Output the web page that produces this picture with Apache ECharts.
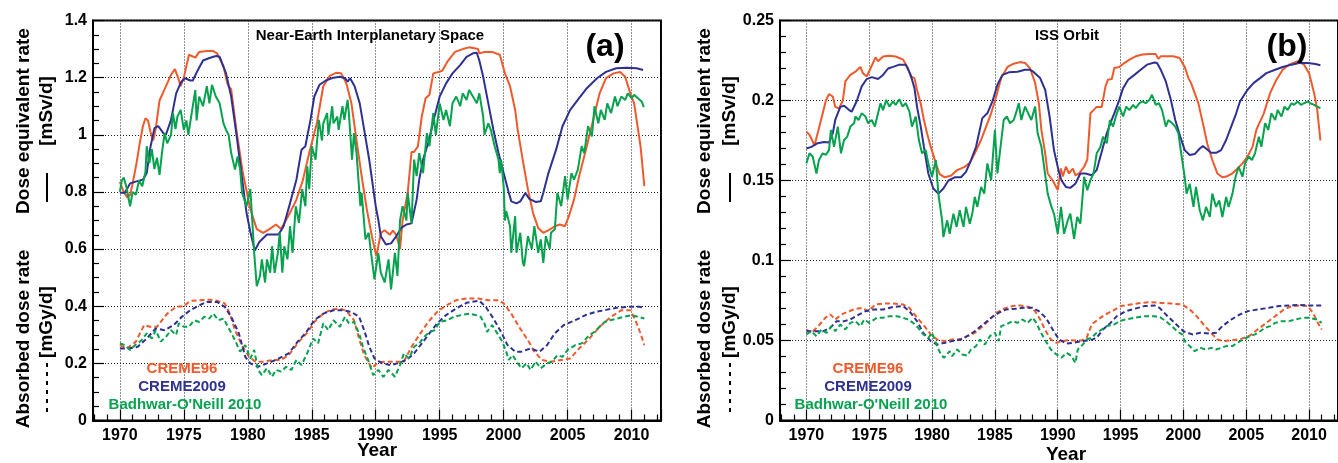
<!DOCTYPE html>
<html>
<head>
<meta charset="utf-8">
<title>Dose rates 1970-2011</title>
<script src="https://cdn.jsdelivr.net/npm/echarts@6/dist/echarts.min.js"></script>
<style>
  html, body { margin: 0; padding: 0; background: #fff; }
  #chart { width: 1338px; height: 463px; }
</style>
</head>
<body>
<div id="chart"></div>
<script>
// ---- Panel (a): near-Earth interplanetary space ----
// Dose equivalent rate [mSv/d], pairs of [year, value]
const doseA_creme96 = [[1970.0,0.835],[1970.3,0.80],[1970.6,0.78],[1970.8,0.79],[1971.0,0.83],[1971.3,0.90],[1971.55,0.97],[1971.8,1.03],[1972.0,1.058],[1972.2,1.05],[1972.4,1.01],[1972.6,0.98],[1972.8,1.02],[1973.1,1.12],[1973.5,1.16],[1974.0,1.21],[1974.3,1.23],[1974.55,1.20],[1974.75,1.17],[1975.0,1.20],[1975.4,1.28],[1975.9,1.27],[1976.2,1.29],[1976.8,1.293],[1977.3,1.293],[1977.6,1.285],[1978.1,1.24],[1978.4,1.18],[1978.5,1.17],[1978.7,1.16],[1979.1,1.02],[1979.6,0.87],[1980.2,0.74],[1980.7,0.67],[1981.2,0.657],[1981.7,0.67],[1982.2,0.686],[1982.6,0.67],[1983.3,0.727],[1983.8,0.773],[1984.3,0.84],[1984.8,0.936],[1985.4,1.04],[1985.9,1.17],[1986.4,1.206],[1986.9,1.217],[1987.3,1.215],[1987.7,1.18],[1988.1,1.11],[1988.5,0.98],[1988.9,0.855],[1989.3,0.74],[1989.7,0.645],[1990.05,0.575],[1990.4,0.656],[1990.7,0.666],[1991.1,0.65],[1991.35,0.665],[1991.6,0.65],[1991.9,0.60],[1992.1,0.70],[1992.5,0.797],[1992.8,0.94],[1993.0,0.94],[1993.3,0.96],[1993.6,1.064],[1993.9,1.128],[1994.2,1.14],[1994.5,1.215],[1994.9,1.22],[1995.2,1.224],[1995.6,1.256],[1996.2,1.29],[1996.8,1.30],[1997.3,1.306],[1998.0,1.30],[1998.1,1.285],[1998.5,1.29],[1999.1,1.29],[1999.7,1.28],[2000.1,1.215],[2000.5,1.17],[2000.9,1.087],[2001.1,1.017],[2001.5,0.91],[2001.9,0.808],[2002.3,0.726],[2002.7,0.674],[2003.1,0.657],[2003.6,0.668],[2004.0,0.68],[2004.4,0.686],[2004.8,0.68],[2005.1,0.715],[2005.5,0.773],[2005.9,0.855],[2006.5,0.96],[2007.0,1.052],[2007.5,1.145],[2008.0,1.198],[2008.6,1.215],[2009.1,1.22],[2009.5,1.203],[2009.9,1.145],[2010.2,1.11],[2010.4,1.05],[2010.7,0.96],[2011.0,0.82]];
const doseA_creme2009 = [[1970.0,0.797],[1970.4,0.797],[1970.8,0.83],[1971.3,0.837],[1971.8,0.843],[1972.1,0.866],[1972.35,0.948],[1972.7,1.023],[1973.0,1.03],[1973.4,1.006],[1973.6,1.0],[1974.0,1.052],[1974.4,1.145],[1974.8,1.186],[1975.1,1.198],[1975.5,1.19],[1975.7,1.19],[1976.1,1.227],[1976.5,1.26],[1976.9,1.267],[1977.3,1.273],[1977.55,1.276],[1977.8,1.273],[1978.1,1.238],[1978.3,1.215],[1978.7,1.134],[1979.1,1.006],[1979.5,0.866],[1979.9,0.727],[1980.2,0.66],[1980.55,0.595],[1980.9,0.625],[1981.5,0.651],[1982.0,0.651],[1982.4,0.651],[1982.8,0.68],[1983.3,0.76],[1983.8,0.843],[1984.2,0.948],[1984.5,0.96],[1984.9,1.052],[1985.2,1.134],[1985.6,1.175],[1986.1,1.19],[1986.7,1.20],[1987.2,1.203],[1987.6,1.198],[1987.8,1.186],[1988.0,1.198],[1988.35,1.17],[1988.75,1.11],[1989.1,1.017],[1989.5,0.91],[1990.0,0.75],[1990.2,0.703],[1990.4,0.645],[1990.8,0.616],[1991.2,0.62],[1991.6,0.645],[1992.0,0.674],[1992.4,0.686],[1992.8,0.69],[1993.2,0.773],[1993.4,0.843],[1993.7,0.913],[1994.1,0.971],[1994.6,1.064],[1995.0,1.134],[1995.5,1.18],[1996.0,1.215],[1996.6,1.244],[1997.1,1.273],[1997.6,1.285],[1997.9,1.287],[1998.1,1.26],[1998.4,1.203],[1998.8,1.11],[1999.2,1.017],[1999.6,0.936],[2000.0,0.866],[2000.4,0.797],[2000.6,0.767],[2001.0,0.76],[2001.3,0.767],[2001.7,0.796],[2002.0,0.776],[2002.5,0.765],[2002.9,0.767],[2003.1,0.797],[2003.5,0.866],[2004.1,0.948],[2004.6,1.03],[2005.2,1.087],[2005.9,1.128],[2006.5,1.163],[2007.3,1.198],[2008.0,1.22],[2008.8,1.233],[2009.6,1.235],[2010.4,1.233],[2010.9,1.227]];
const doseA_bon2010 = [[1970.0,0.80],[1970.15,0.84],[1970.3,0.85],[1970.5,0.82],[1970.8,0.75],[1971.0,0.80],[1971.25,0.79],[1971.5,0.84],[1971.75,0.82],[1972.0,0.87],[1972.1,0.96],[1972.3,0.90],[1972.5,0.95],[1972.7,0.88],[1972.9,0.92],[1973.1,0.86],[1973.3,0.94],[1973.5,1.006],[1973.7,0.97],[1974.0,1.0],[1974.15,1.076],[1974.35,1.02],[1974.5,1.064],[1974.75,1.087],[1975.0,1.017],[1975.2,1.05],[1975.35,1.0],[1975.5,1.0],[1975.7,1.10],[1975.9,1.157],[1976.0,1.05],[1976.2,1.134],[1976.5,1.10],[1976.8,1.17],[1977.0,1.11],[1977.2,1.175],[1977.5,1.134],[1977.8,1.11],[1978.1,1.04],[1978.3,1.017],[1978.5,1.0],[1978.7,0.936],[1979.0,0.878],[1979.2,0.924],[1979.4,0.878],[1979.55,0.797],[1979.9,0.75],[1980.2,0.81],[1980.35,0.70],[1980.5,0.587],[1980.7,0.47],[1980.95,0.506],[1981.1,0.564],[1981.35,0.483],[1981.5,0.564],[1981.75,0.517],[1981.9,0.61],[1982.1,0.517],[1982.35,0.587],[1982.5,0.657],[1982.7,0.517],[1982.85,0.61],[1983.1,0.564],[1983.3,0.68],[1983.5,0.587],[1983.75,0.75],[1984.0,0.692],[1984.25,0.81],[1984.5,0.75],[1984.65,0.89],[1984.8,0.81],[1985.0,0.96],[1985.3,0.913],[1985.55,1.052],[1985.8,0.98],[1985.9,1.04],[1986.2,1.076],[1986.3,1.0],[1986.6,1.1],[1986.7,1.04],[1987.0,1.064],[1987.1,1.017],[1987.4,1.1],[1987.55,1.052],[1987.8,1.122],[1987.9,1.076],[1988.15,0.913],[1988.3,1.006],[1988.5,0.936],[1988.8,0.75],[1988.9,0.797],[1989.2,0.634],[1989.45,0.657],[1989.6,0.6],[1989.9,0.494],[1990.2,0.587],[1990.4,0.517],[1990.7,0.483],[1991.0,0.564],[1991.2,0.459],[1991.5,0.587],[1991.7,0.506],[1991.9,0.70],[1992.1,0.75],[1992.4,0.70],[1992.5,0.797],[1992.8,0.69],[1993.0,0.913],[1993.2,0.855],[1993.4,0.936],[1993.7,0.866],[1994.0,1.006],[1994.2,0.96],[1994.5,1.076],[1994.7,1.0],[1995.0,1.11],[1995.3,1.052],[1995.5,1.087],[1995.8,1.03],[1996.0,1.11],[1996.3,1.134],[1996.6,1.10],[1996.8,1.145],[1997.1,1.122],[1997.3,1.157],[1997.6,1.134],[1997.9,1.11],[1998.1,1.145],[1998.4,1.064],[1998.5,1.0],[1998.8,1.04],[1999.0,1.017],[1999.3,0.96],[1999.6,0.913],[1999.7,0.866],[1999.8,0.913],[2000.0,0.82],[2000.1,0.70],[2000.2,0.733],[2000.5,0.68],[2000.6,0.587],[2000.9,0.715],[2001.0,0.587],[2001.3,0.657],[2001.5,0.552],[2001.6,0.54],[2001.9,0.645],[2002.2,0.60],[2002.4,0.68],[2002.7,0.587],[2002.9,0.634],[2003.1,0.552],[2003.3,0.645],[2003.6,0.60],[2003.7,0.657],[2004.0,0.669],[2004.2,0.797],[2004.5,0.75],[2004.8,0.855],[2005.0,0.773],[2005.3,0.866],[2005.5,0.843],[2005.8,0.878],[2006.1,0.96],[2006.3,0.936],[2006.6,1.03],[2006.9,0.994],[2007.1,1.10],[2007.4,1.04],[2007.6,1.087],[2007.9,1.052],[2008.1,1.11],[2008.4,1.076],[2008.7,1.134],[2008.9,1.10],[2009.2,1.134],[2009.5,1.122],[2009.7,1.145],[2010.0,1.128],[2010.2,1.14],[2010.5,1.128],[2010.8,1.116],[2010.95,1.097]];
// Absorbed dose rate [mGy/d]
const absA_creme96 = [[1970.0,0.264],[1970.55,0.252],[1971.25,0.276],[1971.9,0.334],[1972.35,0.328],[1972.9,0.328],[1973.7,0.374],[1974.4,0.398],[1975.0,0.40],[1975.5,0.419],[1976.2,0.421],[1977.1,0.423],[1977.6,0.419],[1978.2,0.41],[1978.6,0.374],[1979.0,0.316],[1979.6,0.258],[1980.1,0.223],[1980.6,0.206],[1981.2,0.206],[1982.0,0.212],[1982.6,0.212],[1983.2,0.229],[1984.0,0.276],[1984.7,0.31],[1985.2,0.345],[1985.9,0.374],[1986.5,0.388],[1987.2,0.392],[1987.7,0.384],[1988.3,0.351],[1988.7,0.287],[1989.1,0.229],[1989.7,0.183],[1990.1,0.20],[1990.6,0.206],[1991.2,0.206],[1991.6,0.206],[1992.2,0.206],[1992.8,0.258],[1993.4,0.299],[1994.1,0.345],[1994.8,0.38],[1995.5,0.403],[1996.3,0.421],[1997.1,0.427],[1998.0,0.427],[1998.8,0.421],[1999.6,0.421],[2000.0,0.41],[2000.6,0.374],[2001.2,0.328],[2001.9,0.281],[2002.4,0.241],[2003.0,0.212],[2003.7,0.206],[2004.5,0.212],[2005.2,0.217],[2005.9,0.252],[2006.7,0.287],[2007.5,0.328],[2008.4,0.363],[2009.2,0.386],[2009.9,0.386],[2010.3,0.351],[2010.7,0.305],[2011.0,0.264]];
const absA_creme2009 = [[1970.0,0.252],[1970.7,0.252],[1971.4,0.258],[1972.1,0.287],[1972.8,0.322],[1973.5,0.316],[1974.2,0.334],[1974.85,0.363],[1975.5,0.386],[1976.2,0.403],[1976.8,0.415],[1977.6,0.415],[1978.2,0.398],[1978.7,0.363],[1979.3,0.305],[1979.8,0.223],[1980.2,0.20],[1980.8,0.188],[1981.5,0.20],[1982.3,0.214],[1983.2,0.235],[1983.9,0.276],[1984.5,0.305],[1985.2,0.351],[1985.9,0.374],[1986.7,0.386],[1987.4,0.386],[1988.1,0.38],[1988.7,0.363],[1989.1,0.316],[1989.5,0.258],[1989.9,0.217],[1990.5,0.20],[1991.2,0.194],[1991.7,0.20],[1992.4,0.212],[1993.0,0.235],[1993.5,0.264],[1994.1,0.299],[1994.8,0.34],[1995.5,0.369],[1996.3,0.392],[1997.1,0.412],[1998.1,0.419],[1998.6,0.398],[1999.2,0.357],[1999.8,0.31],[2000.3,0.264],[2000.9,0.241],[2001.4,0.241],[2002.1,0.252],[2002.8,0.241],[2003.4,0.264],[2004.0,0.305],[2004.7,0.334],[2005.6,0.351],[2006.4,0.369],[2007.2,0.38],[2008.1,0.388],[2008.9,0.395],[2009.8,0.398],[2010.6,0.398],[2011.0,0.395]];
const absA_bon2010 = [[1970.0,0.27],[1970.4,0.264],[1970.8,0.247],[1971.2,0.264],[1971.7,0.281],[1972.1,0.305],[1972.5,0.287],[1972.8,0.316],[1973.2,0.276],[1973.6,0.293],[1974.0,0.316],[1974.4,0.299],[1974.6,0.34],[1975.0,0.328],[1975.4,0.328],[1975.8,0.351],[1976.2,0.345],[1976.6,0.363],[1977.0,0.357],[1977.3,0.374],[1977.7,0.351],[1978.1,0.357],[1978.6,0.316],[1979.0,0.281],[1979.4,0.241],[1979.8,0.264],[1980.2,0.217],[1980.5,0.247],[1980.8,0.177],[1981.1,0.159],[1981.5,0.183],[1981.9,0.153],[1982.2,0.177],[1982.6,0.171],[1983.0,0.188],[1983.4,0.177],[1983.8,0.212],[1984.2,0.194],[1984.7,0.241],[1985.1,0.287],[1985.5,0.27],[1985.9,0.34],[1986.3,0.316],[1986.7,0.351],[1987.2,0.328],[1987.6,0.363],[1987.9,0.34],[1988.3,0.345],[1988.7,0.305],[1989.0,0.258],[1989.4,0.212],[1989.8,0.159],[1990.2,0.177],[1990.6,0.153],[1991.0,0.177],[1991.5,0.153],[1991.9,0.194],[1992.2,0.235],[1992.6,0.217],[1993.0,0.258],[1993.4,0.27],[1993.8,0.293],[1994.2,0.31],[1994.6,0.316],[1995.0,0.345],[1995.6,0.351],[1996.1,0.363],[1996.7,0.369],[1997.3,0.374],[1997.8,0.369],[1998.2,0.363],[1998.5,0.34],[1998.7,0.31],[1999.1,0.334],[1999.5,0.305],[1999.9,0.276],[2000.2,0.241],[2000.4,0.212],[2000.7,0.229],[2001.1,0.20],[2001.4,0.183],[2001.8,0.20],[2002.1,0.177],[2002.5,0.206],[2002.9,0.183],[2003.4,0.20],[2003.8,0.206],[2004.2,0.229],[2004.6,0.223],[2005.0,0.247],[2005.6,0.264],[2006.1,0.27],[2006.7,0.299],[2007.1,0.31],[2007.5,0.328],[2007.9,0.345],[2008.3,0.351],[2008.9,0.357],[2009.4,0.363],[2010.0,0.369],[2010.5,0.363],[2011.0,0.357]];

// ---- Panel (b): ISS orbit ----
const doseB_creme96 = [[1970.0,0.1805],[1970.25,0.1785],[1970.65,0.172],[1971.0,0.1826],[1971.3,0.192],[1971.55,0.2],[1971.8,0.204],[1972.1,0.2025],[1972.3,0.196],[1972.6,0.195],[1972.9,0.2],[1973.1,0.212],[1973.5,0.216],[1973.9,0.218],[1974.3,0.221],[1974.5,0.217],[1974.8,0.215],[1975.1,0.22],[1975.5,0.227],[1975.7,0.2245],[1976.1,0.2275],[1976.6,0.228],[1977.1,0.2275],[1977.7,0.2255],[1978.1,0.22],[1978.3,0.215],[1978.6,0.214],[1978.8,0.2067],[1979.1,0.198],[1979.35,0.188],[1979.6,0.1795],[1979.9,0.171],[1980.3,0.1607],[1980.6,0.154],[1981.0,0.152],[1981.5,0.153],[1982.0,0.1565],[1982.6,0.1585],[1983.0,0.161],[1983.4,0.167],[1983.9,0.1753],[1984.3,0.1837],[1984.7,0.192],[1985.1,0.2025],[1985.5,0.214],[1986.0,0.221],[1986.5,0.223],[1987.0,0.224],[1987.4,0.2235],[1987.8,0.22],[1988.2,0.211],[1988.5,0.198],[1988.7,0.1816],[1989.0,0.167],[1989.2,0.1544],[1989.6,0.15],[1990.0,0.144],[1990.25,0.1575],[1990.4,0.1525],[1990.65,0.1586],[1990.9,0.1544],[1991.2,0.1575],[1991.4,0.1533],[1991.7,0.1544],[1992.1,0.1586],[1992.35,0.163],[1992.6,0.192],[1992.85,0.194],[1993.1,0.196],[1993.5,0.196],[1993.8,0.2088],[1994.0,0.213],[1994.3,0.2134],[1994.5,0.2203],[1994.9,0.221],[1995.3,0.2234],[1995.7,0.2255],[1996.2,0.2276],[1996.75,0.2287],[1997.3,0.229],[1997.8,0.229],[1998.0,0.226],[1998.2,0.2276],[1998.7,0.2276],[1999.2,0.2276],[1999.7,0.2266],[2000.1,0.221],[2000.4,0.214],[2000.6,0.211],[2000.9,0.2046],[2001.2,0.198],[2001.6,0.184],[2001.9,0.173],[2002.3,0.1628],[2002.7,0.1544],[2003.1,0.152],[2003.5,0.1527],[2003.9,0.1544],[2004.3,0.1575],[2004.7,0.1607],[2005.1,0.165],[2005.5,0.171],[2005.8,0.1816],[2006.4,0.192],[2006.9,0.2046],[2007.4,0.213],[2007.9,0.2192],[2008.4,0.2224],[2009.1,0.2245],[2009.6,0.2224],[2010.0,0.2171],[2010.4,0.2046],[2010.65,0.194],[2010.9,0.175]];
const doseB_creme2009 = [[1970.0,0.17],[1970.4,0.171],[1970.9,0.1733],[1971.4,0.174],[1971.8,0.1737],[1972.1,0.1795],[1972.3,0.188],[1972.7,0.196],[1973.0,0.1967],[1973.4,0.194],[1973.6,0.193],[1974.0,0.1995],[1974.4,0.2088],[1974.8,0.2134],[1975.2,0.2146],[1975.7,0.2134],[1976.1,0.216],[1976.5,0.22],[1976.9,0.221],[1977.4,0.2224],[1977.9,0.2224],[1978.3,0.216],[1978.6,0.2077],[1978.8,0.1962],[1979.1,0.1837],[1979.35,0.1711],[1979.7,0.1544],[1980.1,0.145],[1980.5,0.1418],[1980.9,0.145],[1981.3,0.15],[1981.8,0.152],[1982.3,0.152],[1982.7,0.1554],[1983.1,0.1628],[1983.5,0.1711],[1984.0,0.189],[1984.4,0.192],[1984.8,0.1994],[1985.2,0.2098],[1985.6,0.216],[1986.1,0.2176],[1986.8,0.218],[1987.4,0.2192],[1987.8,0.2192],[1988.05,0.218],[1988.6,0.214],[1989.0,0.2067],[1989.35,0.19],[1989.7,0.169],[1990.1,0.155],[1990.3,0.15],[1990.65,0.146],[1991.0,0.1454],[1991.4,0.148],[1991.8,0.1544],[1992.2,0.1544],[1992.7,0.1533],[1993.1,0.1565],[1993.5,0.168],[1993.9,0.1795],[1994.3,0.188],[1994.5,0.192],[1994.9,0.2004],[1995.2,0.2077],[1995.6,0.213],[1996.1,0.216],[1996.6,0.2192],[1997.1,0.2224],[1997.7,0.2238],[1997.9,0.2234],[1998.2,0.2192],[1998.6,0.2119],[1999.0,0.2004],[1999.35,0.1878],[1999.75,0.1774],[2000.1,0.169],[2000.5,0.1659],[2000.9,0.1665],[2001.3,0.17],[2001.55,0.1715],[2001.8,0.17],[2002.2,0.1673],[2002.6,0.1673],[2003.0,0.169],[2003.4,0.1753],[2003.8,0.1837],[2004.2,0.192],[2004.5,0.1994],[2005.1,0.2067],[2005.6,0.211],[2006.1,0.214],[2006.6,0.2171],[2007.3,0.2192],[2007.9,0.2209],[2008.6,0.2224],[2009.2,0.2234],[2009.9,0.2234],[2010.5,0.2228],[2010.9,0.222]];
const doseB_bon2010 = [[1970.0,0.1607],[1970.25,0.167],[1970.5,0.165],[1970.8,0.1544],[1971.0,0.1628],[1971.3,0.167],[1971.55,0.166],[1971.8,0.169],[1971.95,0.1816],[1972.2,0.171],[1972.5,0.1837],[1972.75,0.167],[1973.0,0.1753],[1973.25,0.1774],[1973.5,0.1837],[1973.8,0.1858],[1973.9,0.19],[1974.15,0.1878],[1974.4,0.192],[1974.7,0.19],[1974.9,0.1858],[1975.2,0.1878],[1975.45,0.1837],[1975.7,0.192],[1975.9,0.1983],[1976.1,0.194],[1976.35,0.2004],[1976.6,0.1962],[1976.9,0.1994],[1977.1,0.1973],[1977.4,0.2008],[1977.65,0.1962],[1977.9,0.1983],[1978.2,0.193],[1978.4,0.1837],[1978.7,0.19],[1978.95,0.1753],[1979.2,0.167],[1979.5,0.169],[1979.7,0.1607],[1980.0,0.1523],[1980.3,0.1628],[1980.5,0.1418],[1980.8,0.1251],[1980.9,0.1146],[1981.2,0.1251],[1981.4,0.1167],[1981.7,0.1293],[1981.95,0.121],[1982.2,0.1314],[1982.5,0.121],[1982.7,0.1335],[1983.0,0.123],[1983.2,0.1293],[1983.4,0.1397],[1983.6,0.1335],[1983.9,0.146],[1984.15,0.1418],[1984.4,0.1607],[1984.7,0.1502],[1985.0,0.1816],[1985.2,0.1544],[1985.45,0.1711],[1985.7,0.1878],[1985.95,0.19],[1986.2,0.1858],[1986.5,0.1878],[1986.75,0.194],[1986.9,0.1983],[1987.1,0.1878],[1987.4,0.1962],[1987.65,0.192],[1987.9,0.1878],[1988.2,0.1962],[1988.4,0.1795],[1988.7,0.1711],[1988.95,0.1565],[1989.2,0.1418],[1989.5,0.1335],[1989.7,0.1293],[1990.0,0.1167],[1990.26,0.1335],[1990.5,0.1167],[1990.8,0.1251],[1991.0,0.1293],[1991.3,0.1136],[1991.55,0.1272],[1991.8,0.123],[1992.1,0.1523],[1992.35,0.1439],[1992.6,0.1502],[1992.85,0.1544],[1993.1,0.167],[1993.4,0.1711],[1993.6,0.1774],[1993.9,0.1732],[1994.15,0.1878],[1994.4,0.1837],[1994.7,0.192],[1994.9,0.1962],[1995.2,0.19],[1995.45,0.1962],[1995.7,0.194],[1996.0,0.1973],[1996.2,0.1952],[1996.5,0.1983],[1996.75,0.1994],[1997.0,0.1983],[1997.3,0.2004],[1997.5,0.2036],[1997.8,0.1973],[1998.05,0.1983],[1998.3,0.194],[1998.6,0.1837],[1998.8,0.1878],[1999.1,0.1858],[1999.35,0.1837],[1999.6,0.1795],[1999.75,0.1711],[1999.9,0.1628],[2000.1,0.1523],[2000.25,0.1418],[2000.5,0.148],[2000.8,0.1335],[2001.0,0.146],[2001.3,0.1314],[2001.55,0.1251],[2001.8,0.1335],[2002.1,0.1272],[2002.3,0.1418],[2002.6,0.1335],[2002.85,0.1376],[2003.1,0.1272],[2003.4,0.1397],[2003.6,0.1335],[2003.9,0.1418],[2004.15,0.1523],[2004.4,0.1586],[2004.7,0.1523],[2004.9,0.1607],[2005.2,0.165],[2005.45,0.1628],[2005.7,0.167],[2006.0,0.1774],[2006.2,0.1711],[2006.5,0.1858],[2006.75,0.1816],[2007.0,0.192],[2007.3,0.1878],[2007.5,0.194],[2007.8,0.19],[2008.05,0.1962],[2008.3,0.194],[2008.6,0.1983],[2008.8,0.1973],[2009.1,0.1994],[2009.35,0.1973],[2009.6,0.1983],[2009.9,0.1994],[2010.1,0.1983],[2010.4,0.1973],[2010.65,0.1962],[2010.9,0.1952]];
const absB_creme96 = [[1970.0,0.0569],[1970.4,0.0548],[1970.95,0.059],[1971.5,0.0642],[1971.9,0.0663],[1972.3,0.0631],[1972.8,0.0663],[1973.4,0.0683],[1973.9,0.0698],[1974.5,0.0704],[1974.9,0.0683],[1975.5,0.0725],[1976.2,0.0731],[1976.9,0.0731],[1977.7,0.0725],[1978.2,0.0704],[1978.6,0.0663],[1979.05,0.0621],[1979.5,0.0579],[1979.9,0.0538],[1980.4,0.0506],[1980.95,0.0496],[1981.6,0.0506],[1982.3,0.051],[1982.8,0.0527],[1983.4,0.0548],[1984.05,0.059],[1984.6,0.0631],[1985.1,0.0673],[1985.7,0.0698],[1986.4,0.0715],[1987.0,0.0719],[1987.7,0.071],[1988.2,0.0683],[1988.6,0.0631],[1989.05,0.0558],[1989.45,0.0506],[1989.9,0.0485],[1990.3,0.0496],[1990.8,0.0502],[1991.4,0.05],[1991.9,0.05],[1992.3,0.0517],[1992.7,0.06],[1993.2,0.0631],[1993.8,0.0663],[1994.3,0.0683],[1995.0,0.0715],[1995.8,0.0725],[1996.6,0.0735],[1997.4,0.074],[1998.2,0.0735],[1999.05,0.0731],[1999.9,0.0725],[2000.5,0.0694],[2001.05,0.0652],[2001.6,0.06],[2002.2,0.0548],[2002.7,0.0506],[2003.2,0.0496],[2003.9,0.0502],[2004.6,0.051],[2005.3,0.0531],[2005.9,0.0569],[2006.6,0.061],[2007.3,0.0652],[2008.0,0.0694],[2008.6,0.0715],[2009.3,0.0719],[2009.9,0.0715],[2010.3,0.0673],[2010.7,0.061],[2011.0,0.0569]];
const absB_creme2009 = [[1970.0,0.0558],[1970.7,0.0558],[1971.35,0.0558],[1971.9,0.0579],[1972.4,0.0621],[1973.0,0.0621],[1973.5,0.0631],[1974.2,0.0663],[1974.7,0.0683],[1975.3,0.0694],[1976.1,0.0694],[1976.9,0.071],[1977.7,0.0715],[1978.2,0.0683],[1978.8,0.0621],[1979.3,0.0548],[1979.9,0.0496],[1980.4,0.0475],[1980.95,0.0485],[1981.6,0.0496],[1982.3,0.0506],[1982.8,0.0527],[1983.4,0.0558],[1984.05,0.06],[1984.7,0.0642],[1985.3,0.0673],[1985.9,0.0694],[1986.6,0.0698],[1987.3,0.0704],[1988.0,0.0704],[1988.5,0.0683],[1989.05,0.0642],[1989.6,0.0569],[1990.1,0.0506],[1990.7,0.0481],[1991.2,0.0485],[1991.9,0.0496],[1992.6,0.0502],[1993.1,0.0517],[1993.6,0.0569],[1994.2,0.061],[1994.7,0.0652],[1995.4,0.0683],[1996.1,0.0698],[1996.9,0.0715],[1997.7,0.0719],[1998.1,0.0704],[1998.6,0.0663],[1999.3,0.061],[2000.0,0.0558],[2000.7,0.0538],[2001.35,0.0548],[2002.05,0.0544],[2002.6,0.0548],[2003.1,0.059],[2003.8,0.0631],[2004.5,0.0663],[2005.1,0.0683],[2005.95,0.0694],[2006.8,0.0704],[2007.6,0.0715],[2008.4,0.0719],[2009.2,0.0723],[2010.0,0.0719],[2011.0,0.0719]];
const absB_bon2010 = [[1970.0,0.0538],[1970.4,0.0558],[1970.8,0.0527],[1971.2,0.0569],[1971.6,0.0548],[1972.0,0.059],[1972.3,0.0558],[1972.7,0.06],[1973.1,0.0569],[1973.5,0.061],[1973.9,0.0621],[1974.3,0.059],[1974.6,0.0631],[1975.0,0.061],[1975.6,0.0642],[1976.1,0.0642],[1976.6,0.0652],[1977.2,0.0652],[1977.7,0.0642],[1978.1,0.0631],[1978.5,0.061],[1978.9,0.0579],[1979.3,0.0538],[1979.7,0.0517],[1980.0,0.0548],[1980.4,0.0465],[1980.7,0.0413],[1980.95,0.0392],[1981.4,0.0433],[1981.6,0.0402],[1982.0,0.0444],[1982.4,0.0413],[1982.8,0.0406],[1983.1,0.0444],[1983.5,0.0465],[1983.8,0.0506],[1984.2,0.0475],[1984.6,0.0527],[1985.0,0.0548],[1985.3,0.0496],[1985.5,0.059],[1985.9,0.06],[1986.4,0.0621],[1986.8,0.061],[1987.2,0.0631],[1987.6,0.061],[1988.0,0.0642],[1988.3,0.061],[1988.6,0.0558],[1989.05,0.0496],[1989.45,0.0444],[1989.9,0.0413],[1990.3,0.0392],[1990.7,0.0423],[1991.1,0.0402],[1991.4,0.036],[1991.6,0.0444],[1992.0,0.0475],[1992.3,0.0506],[1992.7,0.0517],[1993.1,0.0548],[1993.5,0.0569],[1993.9,0.059],[1994.5,0.06],[1994.9,0.0621],[1995.4,0.0631],[1996.1,0.0642],[1996.9,0.0652],[1997.7,0.0652],[1998.2,0.0642],[1998.6,0.0621],[1999.05,0.059],[1999.5,0.0558],[1999.9,0.0538],[2000.1,0.0496],[2000.5,0.0465],[2000.9,0.0433],[2001.35,0.0454],[2001.8,0.0444],[2002.2,0.0454],[2002.6,0.0444],[2003.0,0.0454],[2003.4,0.0465],[2003.9,0.0465],[2004.3,0.0485],[2004.7,0.0506],[2005.3,0.0527],[2005.7,0.0538],[2006.1,0.0558],[2006.5,0.0579],[2006.9,0.059],[2007.3,0.061],[2007.8,0.0621],[2008.4,0.0621],[2008.9,0.0631],[2009.5,0.0642],[2010.0,0.0642],[2010.6,0.0631],[2011.0,0.061]];

// Model names and the colours they are drawn in
const modelNames = ['CREME96', 'CREME2009', "Badhwar-O'Neill 2010"];
const modelColors = ['#ef5a2c', '#2e3192', '#06a24e'];

const panelTitles = ['Near-Earth Interplanetary Space', 'ISS Orbit'];
const panelTags = ['(a)', '(b)'];
const yTitles = ['Dose equivalent rate', '[mSv/d]', 'Absorbed dose rate', '[mGy/d]'];

const FONT = '"Liberation Sans", Arial, Helvetica, sans-serif';
const chart = echarts.init(document.getElementById('chart'), null, { renderer: 'canvas' });

const gridBoxes = [
  { left: 93, top: 20.5, width: 568, height: 400 },
  { left: 780, top: 20.5, width: 568, height: 400 }
];

function xAxisFor(i) {
  return {
    type: 'value', gridIndex: i, min: 1967.9, max: 2012.3,
    splitNumber: 9, minInterval: 5, maxInterval: 5,
    axisLine: { show: true, lineStyle: { color: '#000', width: 2 } },
    axisTick: { show: true, inside: true, length: 11, lineStyle: { color: '#000', width: 1.2 } },
    minorTick: { show: true, splitNumber: 5, length: 6, lineStyle: { color: '#000', width: 1.2 } },
    splitLine: { show: true, lineStyle: { color: '#222', width: 1, type: [1, 2] } },
    axisLabel: {
      show: true, margin: 7, color: '#000', fontFamily: FONT, fontWeight: 'bold', fontSize: 16,
      showMinLabel: false, showMaxLabel: false,
      formatter: v => (Math.abs(v % 5) < 1e-6 ? String(Math.round(v)) : '')
    }
  };
}

function yAxisFor(i, max, interval, minorSplit) {
  return {
    type: 'value', gridIndex: i, min: 0, max: max, interval: interval,
    axisLine: { show: true, onZero: false, lineStyle: { color: '#000', width: 2 } },
    axisTick: { show: true, inside: true, length: 11, lineStyle: { color: '#000', width: 1.2 } },
    minorTick: { show: true, splitNumber: minorSplit, length: 6, lineStyle: { color: '#000', width: 1.2 } },
    splitLine: { show: true, lineStyle: { color: '#222', width: 1, type: [1, 2] } },
    axisLabel: { show: true, margin: 6, color: '#000', fontFamily: FONT, fontWeight: 'bold', fontSize: 16 }
  };
}

function lineSeries(data, gi, k, dashed) {
  return {
    type: 'line', xAxisIndex: gi, yAxisIndex: gi, data: data,
    showSymbol: false, symbol: 'none', smooth: false, animation: false,
    lineStyle: { color: modelColors[k], width: 2, type: dashed ? [5, 3] : 'solid' },
    z: 3 + k
  };
}

const series = [
  lineSeries(doseA_creme96, 0, 0, false),
  lineSeries(doseA_creme2009, 0, 1, false),
  lineSeries(doseA_bon2010, 0, 2, false),
  lineSeries(absA_creme96, 0, 0, true),
  lineSeries(absA_creme2009, 0, 1, true),
  lineSeries(absA_bon2010, 0, 2, true),
  lineSeries(doseB_creme96, 1, 0, false),
  lineSeries(doseB_creme2009, 1, 1, false),
  lineSeries(doseB_bon2010, 1, 2, false),
  lineSeries(absB_creme96, 1, 0, true),
  lineSeries(absB_creme2009, 1, 1, true),
  lineSeries(absB_bon2010, 1, 2, true)
];

function txt(x, y, text, size, color, rot) {
  return {
    type: 'text', x: x, y: y, rotation: rot || 0, z: 50,
    style: { text: text, fill: color || '#000', font: 'bold ' + size + 'px ' + FONT,
             align: 'center', verticalAlign: 'middle', textAlign: 'center', textVerticalAlign: 'middle' }
  };
}

// Axis titles, panel labels and the model key; one entry per panel:
// [panel, title column x, unit column x, Year x, Year y, title x, tag x, key x]
const graphics = [];
[[0, 24, 47, 377, 451, 370, 605, 182], [1, 705, 730, 1066, 455, 1067, 1287, 868]].forEach(p => {
  const [i, tx, ux, yearX, yearY, titleX, tagX, legX] = p;
  const R = Math.PI / 2;
  graphics.push(txt(tx, 121, yTitles[0], 19, '#000', R));
  graphics.push(txt(ux, 111, yTitles[1], 19, '#000', R));
  graphics.push({ type: 'line', z: 50, shape: { x1: ux, y1: 173, x2: ux, y2: 202 },
                  style: { stroke: '#000', lineWidth: 2 } });
  graphics.push(txt(tx, 339, yTitles[2], 19, '#000', R));
  graphics.push(txt(ux, 322, yTitles[3], 19, '#000', R));
  graphics.push({ type: 'line', z: 50, shape: { x1: ux, y1: 363, x2: ux, y2: 415 },
                  style: { stroke: '#000', lineWidth: 2, lineDash: [4, 5] } });
  graphics.push(txt(yearX, yearY, 'Year', 19, '#000'));
  graphics.push(txt(titleX, 36, panelTitles[i], 15, '#000'));
  graphics.push(txt(tagX, 47, panelTags[i], 32, '#000'));
  graphics.push(txt(legX, 369, modelNames[0], 15, modelColors[0]));
  graphics.push(txt(legX, 387, modelNames[1], 15, modelColors[1]));
  graphics.push(txt(legX + 3, 405, modelNames[2], 15, modelColors[2]));
});

chart.setOption({
  backgroundColor: '#fff',
  animation: false,
  grid: gridBoxes.map(g => Object.assign({ show: true, borderColor: '#000', borderWidth: 2, containLabel: false }, g)),
  xAxis: [xAxisFor(0), xAxisFor(1)],
  yAxis: [yAxisFor(0, 1.4, 0.2, 4), yAxisFor(1, 0.25, 0.05, 5)],
  series: series,
  graphic: graphics
});
</script>
</body>
</html>
